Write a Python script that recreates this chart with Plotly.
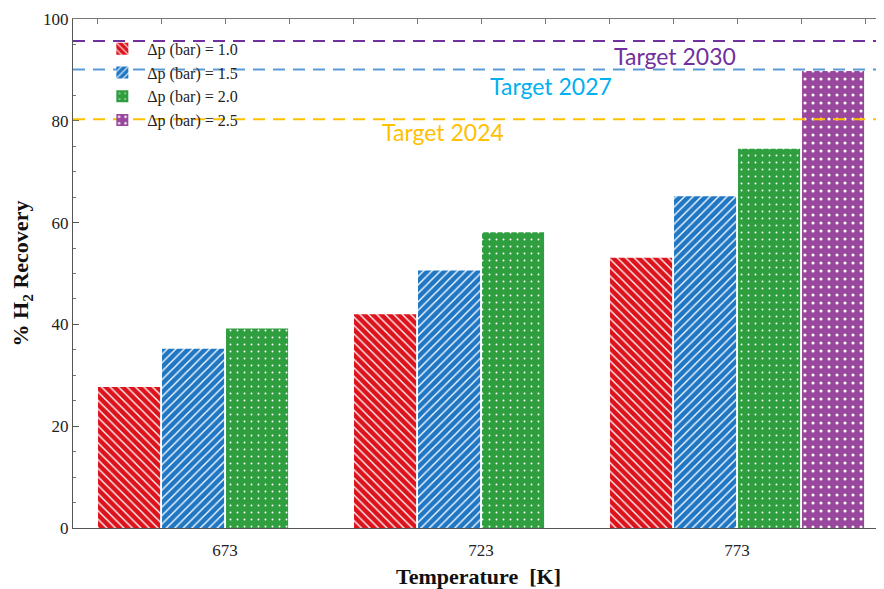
import plotly.graph_objects as go

# ---- data ----
temperatures = ["673", "723", "773"]
dp_labels = ["Δp (bar) = 1.0", "Δp (bar) = 1.5", "Δp (bar) = 2.0", "Δp (bar) = 2.5"]
recovery_dp10 = [27.7, 42.0, 53.1]
recovery_dp15 = [35.2, 50.6, 65.2]
recovery_dp20 = [39.2, 58.1, 74.5]
recovery_dp25 = [None, None, 89.8]
target_names = ["Target 2030", "Target 2027", "Target 2024"]
target_values = [95.7, 90.1, 80.3]
y_ticks = [0, 20, 40, 60, 80, 100]

series = [recovery_dp10, recovery_dp15, recovery_dp20, recovery_dp25]
colors = ["#DC121C", "#1F77C4", "#2E9E3F", "#9A479E"]
shapes_pat = ["\\", "/", ".", "."]
pat_size = [6, 6, 7, 8]
pat_sol = [0.22, 0.22, 0.06, 0.12]

fig = go.Figure()
for name, vals, col, shp, sz, so in zip(dp_labels, series, colors, shapes_pat, pat_size, pat_sol):
    fig.add_trace(go.Bar(
        x=temperatures, y=vals, name=name,
        marker=dict(color=col, line=dict(width=0),
                    pattern=dict(shape=shp, fgcolor="white", bgcolor=col,
                                 size=sz, solidity=so, fillmode="replace")),
    ))

# invisible trace to bind the top tick axis
fig.add_trace(go.Scatter(x=[0], y=[0], xaxis="x2", mode="markers",
                         marker=dict(opacity=0), showlegend=False, hoverinfo="skip"))

line_colors = ["#7030A0", "#5B9BD5", "#FFC000"]
text_colors = ["#7030A0", "#00B0F0", "#FFC000"]
text_x = [0.742, 0.59, 0.456]
text_dy = [-15, -17, -13]
for nm, v, lc, tc, tx, dy in zip(target_names, target_values, line_colors, text_colors, text_x, text_dy):
    fig.add_shape(type="line", xref="paper", x0=0, x1=1, yref="y", y0=v, y1=v,
                  line=dict(color=lc, width=2, dash="12px,8px"), layer="above")
    fig.add_annotation(xref="paper", x=tx, yref="y", y=v, yshift=dy, text=nm,
                       showarrow=False, font=dict(family="Lato, Open Sans, sans-serif", size=23, color=tc),
                       xanchor="center", yanchor="middle")

xr = [-0.594, 2.574]
serif = "Liberation Serif, Times New Roman, serif"
# page body has an 8px margin, so the figure is drawn 8px in from the top-left
fig.update_layout(
    width=876, height=581,
    margin=dict(l=65, r=0, t=11, b=61),
    paper_bgcolor="white", plot_bgcolor="white",
    barmode="group", bargap=0.0, bargroupgap=0.03,
    font=dict(family=serif, size=16, color="#222"),
    legend=dict(x=0.03, y=0.975, xanchor="left", yanchor="top",
                bgcolor="rgba(0,0,0,0)", font=dict(family=serif, size=16, color="#222"),
                itemwidth=40, tracegroupgap=0),
    xaxis=dict(type="category", range=xr, showline=True, linecolor="#555", linewidth=1.2,
               ticks="", showgrid=False, zeroline=False, automargin=False, ticklabelstandoff=6,
               title=dict(text="<b>Temperature  [K]</b>", font=dict(family=serif, size=22, color="#111"), standoff=14),
               tickfont=dict(family=serif, size=17, color="#222")),
    xaxis2=dict(overlaying="x", side="top", range=xr, tick0=-0.5, dtick=0.25, automargin=False,
                ticks="inside", ticklen=5, tickcolor="#777", showticklabels=False,
                showline=True, linecolor="#777", linewidth=1, showgrid=False, zeroline=False),
    yaxis=dict(range=[0, 100], tickvals=y_ticks, ticks="inside", ticklen=6, tickcolor="#555",
               showline=True, linecolor="#555", linewidth=1.2, mirror="ticks", automargin=False,
               minor=dict(dtick=5, ticks="inside", ticklen=3, tickcolor="#777"),
               showgrid=False, zeroline=False,
               title=dict(text="<b>% H<sub>2</sub> Recovery</b>", font=dict(family=serif, size=22, color="#111"), standoff=14),
               tickfont=dict(family=serif, size=17, color="#222")),
)

fig.write_html("out.html")
